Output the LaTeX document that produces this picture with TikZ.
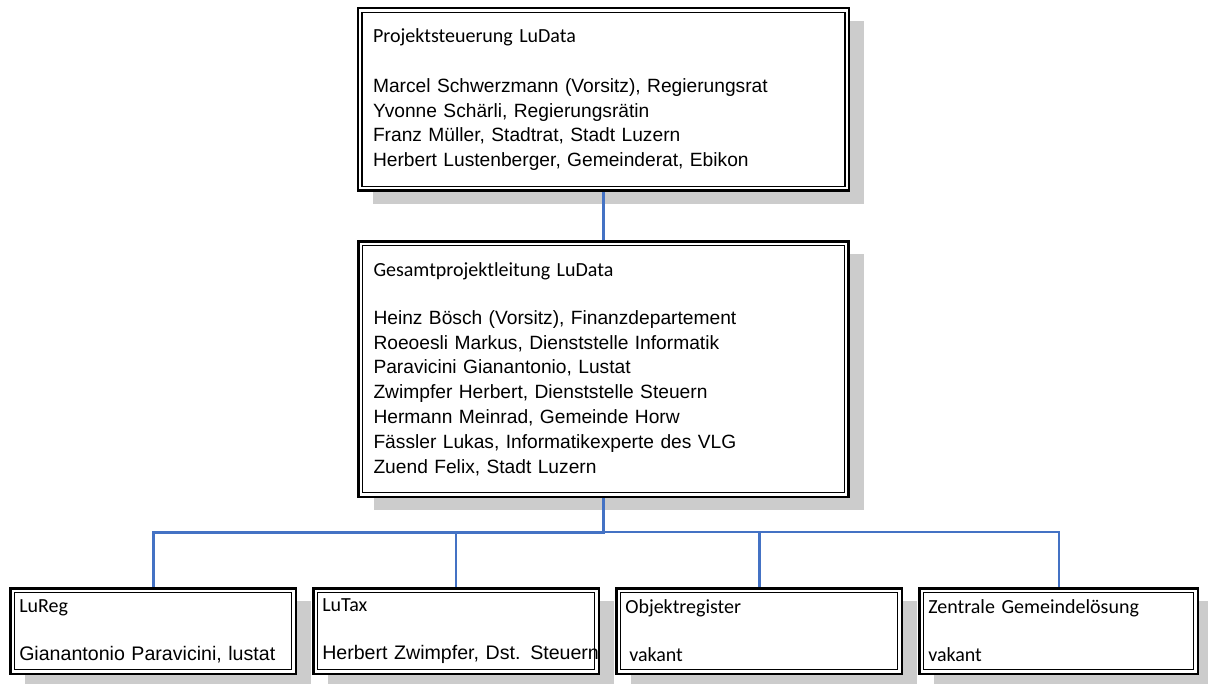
\documentclass[tikz,border=0pt]{standalone}
\usepackage{fontspec}
\setmainfont{Liberation Sans}
\newfontfamily\calibri{Carlito}
\newcommand\boxtitle[1]{{\calibri\fontsize{10}{12.4}\selectfont #1}}
\usepackage{tikz}
\usetikzlibrary{shapes, backgrounds, arrows, positioning, shadows}
\definecolor{linkblue}{RGB}{68,114,196}
\definecolor{shadowgray}{RGB}{204,204,204}
\tikzset{
  orgbox/.style={draw, line width=1.25pt, fill=white, align=left, inner xsep=7.5pt, inner ysep=0pt,
    general shadow={fill=shadowgray, shadow xshift=7.5pt, shadow yshift=-6.5pt},
    path picture={\draw[line width=0.6pt] ([shift={(2pt,-2pt)}]path picture bounding box.north west) rectangle ([shift={(-2pt,2pt)}]path picture bounding box.south east);}},
  subbox/.style={orgbox, inner xsep=4.5pt, text width=133.75pt, minimum height=42.75pt,
    font=\fontsize{9.8}{12.4}\selectfont},
  link/.style={draw=linkblue, line width=1.5pt},
  thinlink/.style={draw=linkblue, line width=1pt}
}

\begin{document}
\begin{tikzpicture}[x=.5pt, y=-.5pt, font=\fontsize{9.6}{12.4}\selectfont]
\useasboundingbox (0,0) rectangle (1208,684);
%
\node[orgbox, text width=230.5pt, minimum height=91.25pt] (steuer) at (603.5,99.5) {%
  \boxtitle{Projektsteuerung LuData}\\[12.6pt]
  Marcel Schwerzmann (Vorsitz), Regierungsrat\\
  Yvonne Schärli, Regierungsrätin\\
  Franz Müller, Stadtrat, Stadt Luzern\\
  Herbert Lustenberger, Gemeinderat, Ebikon};
\node[orgbox, text width=230pt, minimum height=127.75pt] (leitung) at (603.5,369) {%
  \boxtitle{Gesamtprojektleitung LuData}\\[11.6pt]
  Heinz Bösch (Vorsitz), Finanzdepartement\\
  Roeoesli Markus, Dienststelle Informatik\\
  Paravicini Gianantonio, Lustat\\
  Zwimpfer Herbert, Dienststelle Steuern\\
  Hermann Meinrad, Gemeinde Horw\\
  Fässler Lukas, Informatikexperte des VLG\\
  Zuend Felix, Stadt Luzern};
%
\node[subbox] (reg) at (153,631) {\boxtitle{LuReg}\\[11.6pt] \mbox{Gianantonio Paravicini, lustat}};
\node[subbox, right=7.5pt of reg] (tax) {\boxtitle{LuTax}\\[11.6pt] \mbox{Herbert Zwimpfer, Dst. Steuern}};
\node[subbox, right=7.5pt of tax] (objekt) {\boxtitle{Objektregister}\\[11.6pt] \boxtitle{\hspace{2pt}vakant}};
\node[subbox, right=7.5pt of objekt, text width=130.25pt] (gemeinde) {\boxtitle{Zentrale Gemeindelösung}\\[11.6pt] \boxtitle{vakant}};
%
\coordinate (busy) at (0,532);
\draw[link] (steuer) -- (leitung);
\draw[link] (leitung.south) -- (leitung.south |- busy) -| (reg.north);
\draw[thinlink] (leitung.south |- busy) -| (gemeinde.north);
\draw[thinlink] (tax.north) -- (tax.north |- busy);
\draw[link] (objekt.north) -- (objekt.north |- busy);
\end{tikzpicture}
\end{document}
